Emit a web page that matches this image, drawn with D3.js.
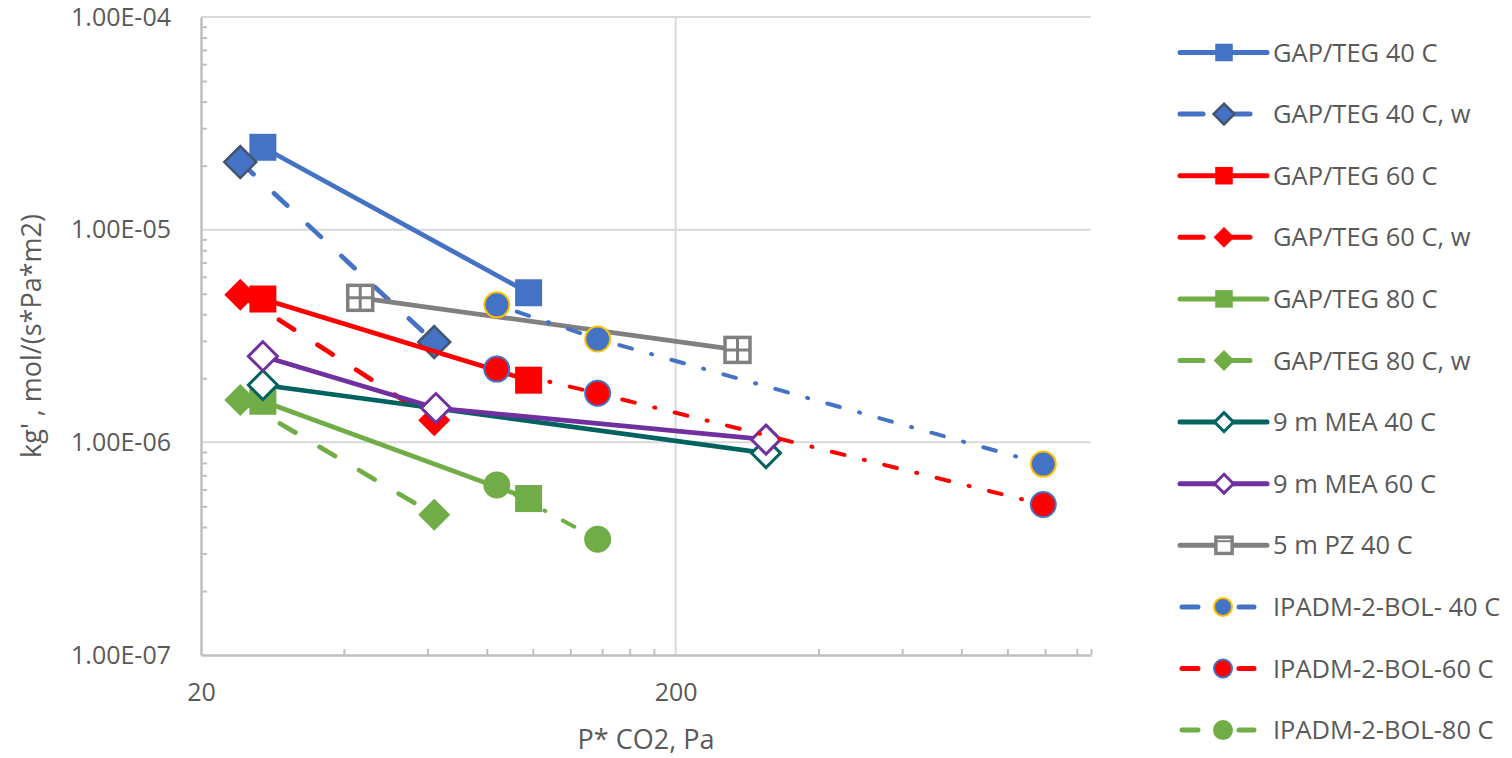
<!DOCTYPE html>
<html>
<head>
<meta charset="utf-8">
<script src="https://cdn.jsdelivr.net/npm/d3@7"></script>
<style>
  body { margin: 0; background: #fff; }
  text { font-family: "Open Sans", sans-serif; fill: #595959; }
</style>
</head>
<body>
<div id="chart"></div>
<script>
// --- data ---
const xGapTeg = [27, 98];          // P* CO2 (Pa), GAP/TEG runs
const xGapTegW = [24.2, 62];       // P* CO2 (Pa), GAP/TEG wetted runs
const kgGapTeg40 = [2.44e-5, 5.05e-6];
const kgGapTeg40w = [2.08e-5, 2.96e-6];
const kgGapTeg60 = [4.72e-6, 1.96e-6];
const kgGapTeg60w = [4.94e-6, 1.27e-6];
const kgGapTeg80 = [1.56e-6, 5.44e-7];
const kgGapTeg80w = [1.58e-6, 4.57e-7];
const xMea40 = [27, 310];
const kgMea40 = [1.86e-6, 8.9e-7];
const xMea60 = [27, 62.5, 310];
const kgMea60 = [2.54e-6, 1.45e-6, 1.03e-6];
const xPz40 = [43.3, 270];
const kgPz40 = [4.78e-6, 2.72e-6];
const xIpadm = [84, 137, 1190];
const kgIpadm40 = [4.43e-6, 3.06e-6, 7.9e-7];
const kgIpadm60 = [2.21e-6, 1.70e-6, 5.1e-7];
const xIpadm80 = [84, 137];
const kgIpadm80 = [6.3e-7, 3.5e-7];

const xMajor = [20, 200];
const xMinor = [40, 60, 80, 100, 120, 140, 160, 180, 400, 600, 800, 1000, 1200, 1400];
const yMajor = [1e-7, 1e-6, 1e-5, 1e-4];
const yMinor = [2, 3, 4, 5, 6, 7, 8, 9].flatMap(m => [m * 1e-7, m * 1e-6, m * 1e-5]);

const blue = "#4472C4", red = "#FF0000", green = "#70AD47";
const series = [
  { name: "GAP/TEG 40 C", xs: xGapTeg, ys: kgGapTeg40, color: blue, line: "solid", shape: "square" },
  { name: "GAP/TEG 40 C, w", xs: xGapTegW, ys: kgGapTeg40w, color: blue, line: "dash", shape: "diamondEdge" },
  { name: "GAP/TEG 60 C", xs: xGapTeg, ys: kgGapTeg60, color: red, line: "solid", shape: "square" },
  { name: "GAP/TEG 60 C, w", xs: xGapTegW, ys: kgGapTeg60w, color: red, line: "dash", shape: "diamond" },
  { name: "GAP/TEG 80 C", xs: xGapTeg, ys: kgGapTeg80, color: green, line: "solid", shape: "square" },
  { name: "GAP/TEG 80 C, w", xs: xGapTegW, ys: kgGapTeg80w, color: green, line: "dash", shape: "diamond" },
  { name: "9 m MEA 40 C", xs: xMea40, ys: kgMea40, color: "#00635F", line: "solid", shape: "openDiamond" },
  { name: "9 m MEA 60 C", xs: xMea60, ys: kgMea60, color: "#7030A0", line: "solid", shape: "openDiamond" },
  { name: "5 m PZ 40 C", xs: xPz40, ys: kgPz40, color: "#808080", line: "solid", shape: "gridSquare" },
  { name: "IPADM-2-BOL- 40 C", xs: xIpadm, ys: kgIpadm40, color: blue, edge: "#FFC000", line: "dashdot", shape: "circle" },
  { name: "IPADM-2-BOL-60 C", xs: xIpadm, ys: kgIpadm60, color: red, edge: blue, line: "dashdot", shape: "circle" },
  { name: "IPADM-2-BOL-80 C", xs: xIpadm80, ys: kgIpadm80, color: green, edge: green, line: "dashdot", shape: "circle" }
];

const width = 1512, height = 758;
const svg = d3.select("#chart").append("svg")
  .attr("width", width).attr("height", height);

const x = d3.scaleLog().domain([20, 1500]).range([201, 1091]);
const y = d3.scaleLog().domain([1e-7, 1e-4]).range([655, 17]);

function fmtE(d) {
  const [m, e] = d.toExponential(2).split("e");
  const n = +e;
  return m + "E" + (n < 0 ? "-" : "+") + String(Math.abs(n)).padStart(2, "0");
}

// gridlines
svg.append("g")
  .selectAll("line.h").data(yMajor.filter(d => d > 1e-7)).join("line")
  .attr("x1", x.range()[0]).attr("x2", x.range()[1])
  .attr("y1", d => y(d)).attr("y2", d => y(d))
  .attr("stroke", "#D9D9D9").attr("stroke-width", 2);
svg.append("g")
  .selectAll("line.v").data(xMajor.filter(d => d > 20)).join("line")
  .attr("x1", d => x(d)).attr("x2", d => x(d))
  .attr("y1", y.range()[0]).attr("y2", y.range()[1])
  .attr("stroke", "#D9D9D9").attr("stroke-width", 2);

// axes with inward minor ticks
const yAxis = svg.append("g")
  .attr("transform", `translate(${x.range()[0]},0)`)
  .call(d3.axisLeft(y).tickValues(yMinor).tickSize(-6).tickFormat("").tickSizeOuter(0));
const xAxis = svg.append("g")
  .attr("transform", `translate(0,${y.range()[0]})`)
  .call(d3.axisBottom(x).tickValues(xMinor.concat([1500])).tickSize(-6).tickFormat("").tickSizeOuter(0));
[yAxis, xAxis].forEach(a => {
  a.select(".domain").attr("stroke", "#BFBFBF").attr("stroke-width", 2.5);
  a.selectAll(".tick line").attr("stroke", "#BFBFBF").attr("stroke-width", 2);
});

// tick labels
svg.append("g")
  .attr("transform", `translate(${x.range()[0]},0)`)
  .call(d3.axisLeft(y).tickValues(yMajor).tickSize(0).tickPadding(30).tickFormat(fmtE))
  .call(g => g.select(".domain").remove())
  .selectAll("text").style("font-size", "25px").attr("fill", "#595959");
svg.append("g")
  .attr("transform", `translate(0,${y.range()[0]})`)
  .call(d3.axisBottom(x).tickValues(xMajor).tickSize(0).tickPadding(28).tickFormat(d3.format("d")))
  .call(g => g.select(".domain").remove())
  .selectAll("text").style("font-size", "25px").attr("fill", "#595959");

// axis titles
svg.append("text")
  .attr("x", (x.range()[0] + x.range()[1]) / 2).attr("y", 749)
  .attr("text-anchor", "middle").style("font-size", "27px")
  .text("P* CO2, Pa");
svg.append("text")
  .attr("transform", `translate(41,${(y.range()[0] + y.range()[1]) / 2}) rotate(-90)`)
  .attr("text-anchor", "middle").style("font-size", "27px")
  .text("kg' , mol/(s*Pa*m2)");

const dashes = { solid: null, dash: "18,28", dashdot: "1,20,13,20" };

function marker(g, s, cx, cy, legend) {
  const k = legend ? 0.65 : 1;
  if (s.shape === "square") {
    const a = 27 * k;
    g.append("rect").attr("x", cx - a / 2).attr("y", cy - a / 2)
      .attr("width", a).attr("height", a).attr("fill", s.color);
  } else if (s.shape === "diamond" || s.shape === "diamondEdge" || s.shape === "openDiamond") {
    const h = (s.shape === "openDiamond" ? 14.5 : 16) * k;
    const p = g.append("polygon")
      .attr("points", [[cx, cy - h], [cx + h, cy], [cx, cy + h], [cx - h, cy]].join(" "));
    if (s.shape === "diamond") p.attr("fill", s.color);
    if (s.shape === "diamondEdge") p.attr("fill", s.color).attr("stroke", "#44546A").attr("stroke-width", 2.5);
    if (s.shape === "openDiamond") p.attr("fill", "#fff").attr("stroke", s.color).attr("stroke-width", 3);
  } else if (s.shape === "gridSquare") {
    const a = 25 * k;
    g.append("rect").attr("x", cx - a / 2).attr("y", cy - a / 2)
      .attr("width", a).attr("height", a)
      .attr("fill", "#fff").attr("stroke", s.color).attr("stroke-width", 3.5);
    if (!legend) {
      g.append("path")
        .attr("d", `M${cx - a / 2},${cy}H${cx + a / 2}M${cx},${cy - a / 2}V${cy + a / 2}`)
        .attr("stroke", s.color).attr("stroke-width", 3);
    } else {
      g.append("path").attr("d", `M${cx - a / 2},${cy - a / 2 + 4}H${cx + a / 2}`)
        .attr("stroke", s.color).attr("stroke-width", 2);
    }
  } else if (s.shape === "circle") {
    g.append("circle").attr("cx", cx).attr("cy", cy).attr("r", (legend ? 9 : 12.5))
      .attr("fill", s.color).attr("stroke", s.edge).attr("stroke-width", 2);
  }
}

// series: line then markers, in order
const line = d3.line().x(d => x(d[0])).y(d => y(d[1]));
series.forEach(s => {
  const pts = s.xs.map((v, i) => [v, s.ys[i]]);
  const g = svg.append("g");
  g.append("path").datum(pts)
    .attr("d", line)
    .attr("fill", "none")
    .attr("stroke", s.color)
    .attr("stroke-width", s.line === "dashdot" ? 4 : 4.7)
    .attr("stroke-linecap", "round")
    .attr("stroke-dasharray", dashes[s.line]);
  pts.forEach(p => marker(g, s, x(p[0]), y(p[1]), false));
});

// legend
const legend = svg.append("g");
series.forEach((s, i) => {
  const cy = 52.5 + i * 61.6;
  const g = legend.append("g");
  let segs, mx;
  if (s.line === "solid") { segs = [[1180, 1267]]; mx = 1224; }
  else if (s.line === "dash") { segs = [[1180, 1203], [1226, 1250]]; mx = 1224; }
  else { segs = [[1182, 1198], [1239, 1254]]; mx = 1223; }
  segs.forEach(sg => g.append("line")
    .attr("x1", sg[0]).attr("x2", sg[1]).attr("y1", cy).attr("y2", cy)
    .attr("stroke", s.color).attr("stroke-width", 5).attr("stroke-linecap", "round"));
  marker(g, s, mx, cy, true);
  g.append("text").attr("x", 1273).attr("y", cy).attr("dy", "0.36em")
    .style("font-size", "25.5px").text(s.name);
});
</script>
</body>
</html>
